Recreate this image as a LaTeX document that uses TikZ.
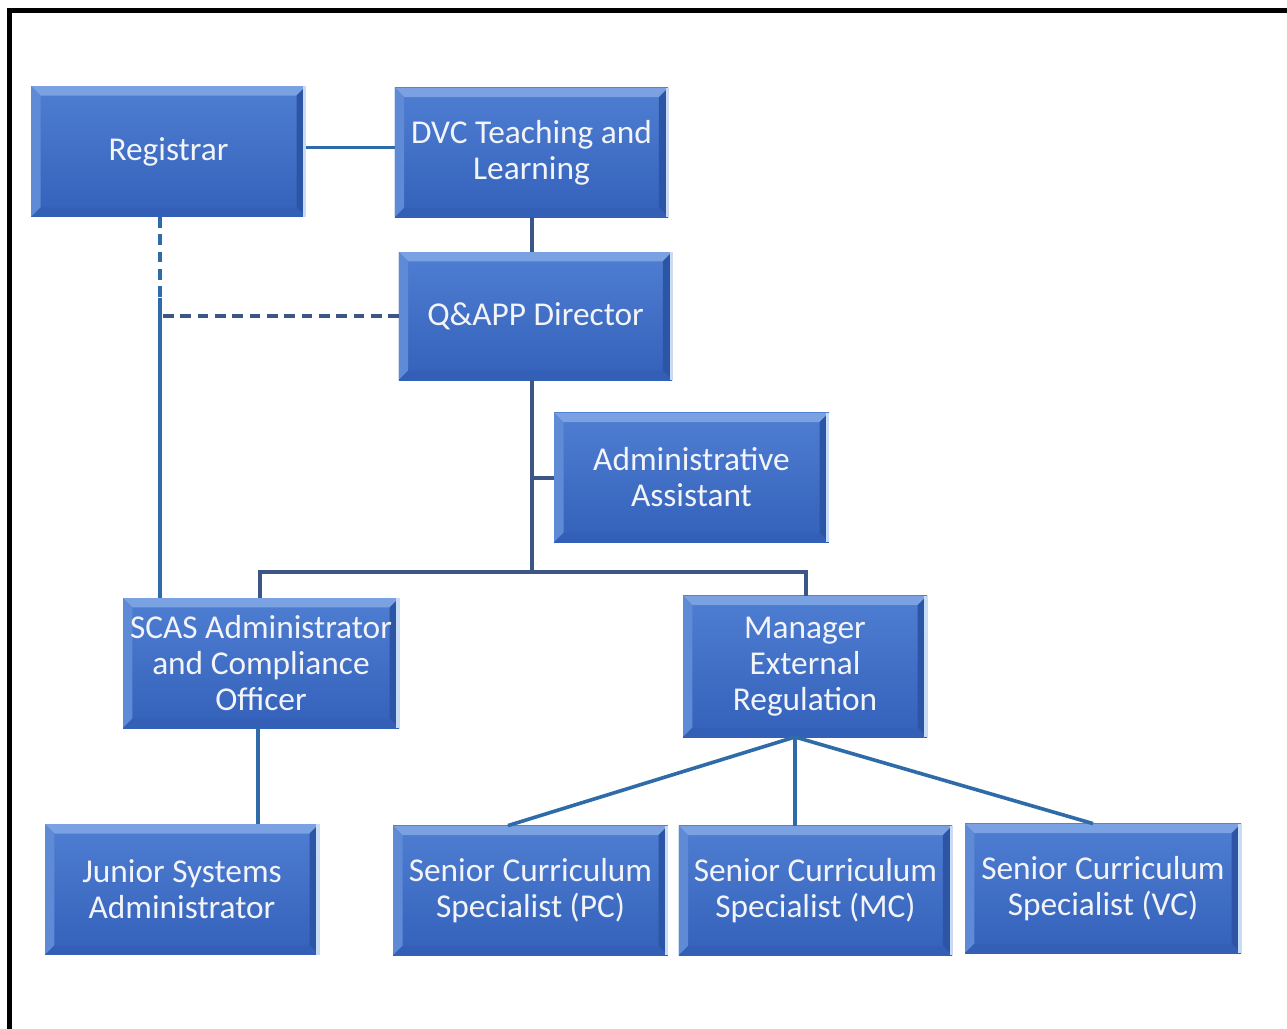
\documentclass[tikz,border=0pt]{standalone}
\usepackage{fontspec}
\setmainfont{Carlito}
\usetikzlibrary{calc}
\definecolor{boxmain}{HTML}{4472C4}
\definecolor{boxtop}{HTML}{4E7ED2}
\definecolor{boxbot}{HTML}{3461BA}
\definecolor{bevtop}{HTML}{7AA2E2}
\definecolor{bevleft}{HTML}{5E8AD6}
\definecolor{bevright}{HTML}{2C55A6}
\definecolor{bevbot}{HTML}{335FB6}
\definecolor{bevedge}{HTML}{C9DCF6}
\definecolor{lineA}{HTML}{2E6BA8}
\definecolor{lineB}{HTML}{3D5688}
\definecolor{boxtext}{HTML}{F2F4F8}
\tikzset{
  orgbox/.style={rectangle, inner sep=2pt, align=center, text=boxtext,
    font=\fontsize{25}{27}\selectfont,
    top color=boxtop, bottom color=boxbot,
    path picture={
      \def\bv{7pt}
      \coordinate (NW) at (path picture bounding box.north west);
      \coordinate (NE) at (path picture bounding box.north east);
      \coordinate (SW) at (path picture bounding box.south west);
      \coordinate (SE) at (path picture bounding box.south east);
      \fill[bevtop] (NW) -- (NE) -- ([xshift=-\bv,yshift=-\bv]NE) -- ([xshift=\bv,yshift=-\bv]NW) -- cycle;
      \fill[bevleft] (NW) -- ([xshift=\bv,yshift=-\bv]NW) -- ([xshift=\bv,yshift=\bv]SW) -- (SW) -- cycle;
      \fill[bevright] (NE) -- ([xshift=-\bv,yshift=-\bv]NE) -- ([xshift=-\bv,yshift=\bv]SE) -- (SE) -- cycle;
      \fill[bevbot] (SW) -- ([xshift=\bv,yshift=\bv]SW) -- ([xshift=-\bv,yshift=\bv]SE) -- (SE) -- cycle;
      \fill[bevedge] ([xshift=-2pt]NE) rectangle (SE);
    }},
  connA/.style={draw=lineA, line width=2.7pt},
  connB/.style={draw=lineB, line width=2.4pt},
  dashline/.style={dash pattern=on 8pt off 5pt}
}
\begin{document}
\begin{tikzpicture}[x=0.75pt,y=-0.75pt]
\useasboundingbox (0,0) rectangle (1287,1028);
\fill[white] (0,0) rectangle (1287,1028);
\draw[line width=3.8pt, black] (9.5,1030) -- (9.5,10.5) -- (1290,10.5);

\node[orgbox, minimum width=206pt, minimum height=98pt] (reg) at (168.5,151.5) {Registrar};
\node[orgbox, minimum width=205pt, minimum height=97pt] (dvc) at (531.5,152.5) {DVC Teaching and\\Learning};
\node[orgbox, minimum width=205pt, minimum height=96pt] (qap) at (535.5,316) {Q\&APP Director};
\node[orgbox, minimum width=206pt, minimum height=97pt] (adm) at (691.5,477.5) {Administrative\\Assistant};
\node[orgbox, minimum width=207pt, minimum height=97.5pt] (scas) at (261,663) {SCAS Administrator\\and Compliance\\Officer};
\node[orgbox, minimum width=183pt, minimum height=106pt] (mgr) at (805,666.5) {Manager\\External\\Regulation};
\node[orgbox, minimum width=205.5pt, minimum height=98pt] (jun) at (182,889.5) {Junior Systems\\Administrator};
\node[orgbox, minimum width=206pt, minimum height=97pt] (pc) at (530.5,890.5) {Senior Curriculum\\Specialist (PC)};
\node[orgbox, minimum width=205pt, minimum height=97pt] (mc) at (815.5,890.5) {Senior Curriculum\\Specialist (MC)};
\node[orgbox, minimum width=207pt, minimum height=97pt] (vc) at (1103,888.5) {Senior Curriculum\\Specialist (VC)};

\coordinate (rd) at (160,298);
\coordinate (rj) at (163,316);
\coordinate (trunk) at (532,572);
\coordinate (abr) at (532,478);
\coordinate (mb) at (795,737);

% Registrar -- DVC
\draw[connA] ([yshift=3pt]reg.east) -- ([yshift=3pt]reg.east -| dvc.west);
% DVC -- Q&APP
\draw[connB] (dvc.south -| trunk) -- (qap.north -| trunk);
% Registrar dashed / solid to SCAS
\draw[connA, dashline] (reg.south -| rd) -- (rd);
\draw[connA] (rd) -- (rd |- scas.north);
\draw[connB, dashline] (rj) -- (qap.west);
% Q&APP trunk
\draw[connB] (qap.south -| trunk) -- (trunk);
\draw[connB] (abr) -- (adm.west |- abr);
\draw[connB] ([xshift=-0.75pt]scas.north) -- ([xshift=-0.75pt]scas.north |- trunk) -- ([xshift=0.75pt]mgr.north |- trunk) -- ([xshift=0.75pt]mgr.north);
% SCAS -- Junior
\draw[connA] ([xshift=-2.25pt]scas.south) -- ([xshift=-2.25pt]scas.south |- jun.north);
% Manager fan
\draw[connA] (mb) -- ([xshift=-16.9pt]pc.north);
\draw[connA] (mb) -- (mb |- mc.north);
\draw[connA] (mb) -- ([xshift=-7.5pt]vc.north);
\end{tikzpicture}
\end{document}
